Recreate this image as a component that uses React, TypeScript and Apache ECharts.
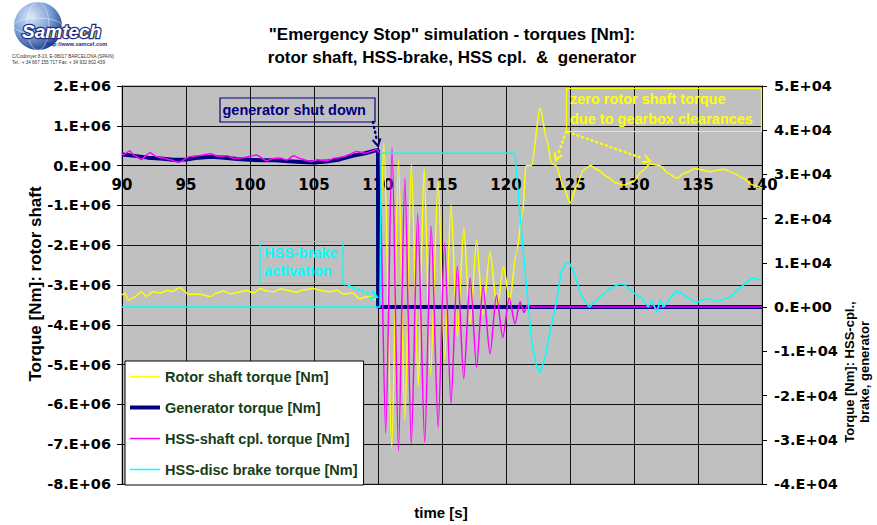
import { useEffect, useRef } from "react";
import * as echarts from "echarts";

const FONT = "'Liberation Sans', Arial, Helvetica, sans-serif";
const TICK_FONT = "'DejaVu Sans', 'Liberation Sans', sans-serif";

// Rotor shaft torque [Nm] — left axis
const rotorTime = [
  90.0, 90.23, 90.5, 91.0, 91.5, 91.9, 92.45, 93.0, 93.5, 94.0,
  94.5, 95.2, 96.1, 96.9, 97.4, 97.9, 98.5, 99.0, 99.7, 100.3,
  100.8, 101.3, 101.8, 102.4, 102.9, 103.6, 104.2, 104.9, 105.6, 106.25,
  106.8, 107.3, 108.0, 108.6, 109.0, 109.4, 109.9, 110.0,
  110.47, 111.07, 111.6, 112.1, 112.6, 113.15, 113.6, 114.1, 114.7, 115.2,
  115.7, 116.2, 116.7, 117.2, 117.7, 118.2, 118.75, 119.3, 119.8, 120.3,
  120.8, 121.3, 121.55, 122.0, 122.66, 123.2, 123.55, 123.9, 124.5, 125.0,
  125.5, 126.05, 126.6, 127.2, 127.9, 128.6, 129.2, 129.95, 130.6, 131.25,
  132.0, 132.7, 133.3, 134.0, 134.8, 135.9, 137.0, 137.8, 138.55, 139.3,
  140.0,
];
const rotorTorque = [
  -3.25e6, -3.21e6, -3.38e6, -3.3e6, -3.17e6, -3.28e6, -3.17e6, -3.2e6, -3.14e6, -3.16e6,
  -3.06e6, -3.23e6, -3.23e6, -3.29e6, -3.2e6, -3.15e6, -3.22e6, -3.19e6, -3.14e6, -3.2e6,
  -3.09e6, -3.15e6, -3.17e6, -3.1e6, -3.13e6, -3.18e6, -3.12e6, -3.09e6, -3.14e6, -3.17e6,
  -3.13e6, -3.23e6, -3.2e6, -3.35e6, -3.3e6, -3.29e6, -3.38e6, -3.3e6,
  0.56e6, -7.1e6, 0.16e6, -6.39e6, 0.04e6, -5.55e6, -0.07e6, -5.26e6, -0.4e6, -4.88e6,
  -0.99e6, -4.3e6, -1.57e6, -3.96e6, -1.87e6, -3.75e6, -2.16e6, -3.59e6, -2.55e6, -3.38e6,
  -2.2e6, -1.2e6, 0.0, 0.0, 1.45e6, 0.64e6, 0.06e6, 0.0, -0.53e6, -0.95e6,
  -0.53e6, -0.11e6, 0.0, -0.11e6, -0.28e6, -0.44e6, -0.49e6, -0.4e6, -0.15e6, 0.04e6,
  0.0, -0.19e6, -0.32e6, -0.18e6, -0.07e6, -0.15e6, -0.09e6, -0.19e6, -0.32e6, -0.49e6,
  -0.57e6,
];

// Generator torque [Nm] — right axis
const genTime = [
  90, 91, 92, 93, 94, 95, 96, 97, 98, 99,
  100, 101, 102, 103, 104, 105, 106, 107, 108, 109,
  109.9, 110.0, 110.01, 140,
];
const genTorque = [
  3.45e4, 3.42e4, 3.38e4, 3.36e4, 3.33e4, 3.34e4, 3.38e4, 3.4e4, 3.38e4, 3.35e4,
  3.33e4, 3.32e4, 3.32e4, 3.3e4, 3.28e4, 3.27e4, 3.29e4, 3.34e4, 3.42e4, 3.48e4,
  3.55e4, 3.55e4, 0, 0,
];

// HSS-shaft coupling torque [Nm] — right axis
const cplTime = [
  90.0, 90.1, 90.6, 91.0, 91.5, 92.2, 92.7, 93.2, 93.8, 94.4,
  95.3, 96.1, 96.9, 97.5, 98.2, 98.8, 99.5, 100.0, 100.5, 101.3,
  101.8, 102.3, 102.9, 103.4, 104.0, 104.7, 105.3, 106.0, 106.7, 107.3,
  107.8, 108.3, 109.0, 109.6, 109.9, 110.1,
  110.6, 111.1, 111.6, 112.1, 112.6, 113.1, 113.65, 114.15, 114.7, 115.2,
  115.7, 116.2, 116.7, 117.2, 117.7, 118.2, 118.75, 119.25, 119.75, 120.25,
  120.7, 121.1, 121.4, 121.7, 122.0, 131.3, 131.5, 131.7, 131.9, 140.0,
];
const cplTorque = [
  3.48e4, 3.44e4, 3.53e4, 3.42e4, 3.34e4, 3.49e4, 3.4e4, 3.37e4, 3.33e4, 3.27e4,
  3.4e4, 3.43e4, 3.47e4, 3.41e4, 3.42e4, 3.36e4, 3.38e4, 3.41e4, 3.44e4, 3.31e4,
  3.36e4, 3.37e4, 3.33e4, 3.42e4, 3.35e4, 3.29e4, 3.33e4, 3.31e4, 3.37e4, 3.4e4,
  3.45e4, 3.52e4, 3.48e4, 3.53e4, 3.57e4, 3.5e4,
  -2.86e4, 3.6e4, -3.25e4, 2.92e4, -3.13e4, 2.11e4, -3.06e4, 1.84e4, -2.72e4, 1.45e4,
  -2.18e4, 0.93e4, -1.62e4, 0.66e4, -1.36e4, 0.48e4, -1.06e4, 0.26e4, -0.69e4, 0.21e4,
  -0.38e4, 0.12e4, -0.12e4, 0.05e4, 0, 0, 0.05e4, -0.05e4, 0, 0,
];

// HSS-disc brake torque [Nm] — right axis
const brakeTime = [
  90, 110.15, 110.25, 120.7, 121.1, 121.75, 122.0, 122.4, 122.66, 123.05,
  123.55, 123.8, 124.05, 124.3, 124.7, 124.97, 125.35, 125.9, 126.5, 127.3,
  128.1, 128.9, 129.3, 129.95, 130.7, 131.1, 131.4, 131.8, 132.05, 132.3,
  133.3, 134.0, 134.8, 135.65, 136.6, 137.5, 138.3, 139.2, 140.0,
];
const brakeTorque = [
  0, 0, 3.48e4, 3.48e4, 2.08e4, 0, -0.76e4, -1.36e4, -1.48e4, -1.14e4,
  -0.38e4, -0.1e4, 0.33e4, 0.78e4, 1.0e4, 0.99e4, 0.75e4, 0.26e4, 0, 0.22e4,
  0.41e4, 0.53e4, 0.5e4, 0.33e4, 0.18e4, 0, 0.14e4, -0.12e4, 0.18e4, 0,
  0.37e4, 0.26e4, 0.1e4, 0.19e4, 0.13e4, 0.22e4, 0.44e4, 0.66e4, 0.61e4,
];

const seriesNames = [
  "Rotor shaft torque [Nm]",
  "Generator torque [Nm]",
  "HSS-shaft cpl. torque [Nm]",
  "HSS-disc brake torque [Nm]",
];
const seriesColors = ["#ffff00", "#000080", "#ff00ff", "#00ffff"];
const seriesWidths = [1.5, 4, 1.5, 1.5];

const titleLines = [
  '"Emergency Stop" simulation - torques [Nm]:',
  "rotor shaft, HSS-brake, HSS cpl.  &  generator",
];

const zip = (t: number[], v: number[]) => t.map((x, i) => [x, v[i]]);

const sci = (v: number, exp: number) => {
  const m = Math.round(v / Math.pow(10, exp));
  return m === 0 ? "0.E+00" : `${m}.E+0${exp}`;
};

// dotted callout line ending in an open chevron
function callout(x1: number, y1: number, x2: number, y2: number, color: string) {
  const a = Math.atan2(y2 - y1, x2 - x1);
  const len = 7;
  const half = 4;
  const bx = x2 - len * Math.cos(a);
  const by = y2 - len * Math.sin(a);
  const px = -Math.sin(a) * half;
  const py = Math.cos(a) * half;
  return [
    {
      type: "line",
      z: 20,
      shape: { x1, y1, x2: bx, y2: by },
      style: { stroke: color, lineWidth: 2.5, lineDash: [1, 4], lineCap: "round" },
    },
    {
      type: "polyline",
      z: 20,
      shape: { points: [[bx + px, by + py], [x2, y2], [bx - px, by - py]] },
      style: { stroke: color, lineWidth: 2, fill: "none" },
    },
  ];
}

function noteText(x: number, y: number, text: string, color: string) {
  return {
    type: "text",
    z: 20,
    x,
    y,
    style: {
      text,
      fill: color,
      fontFamily: FONT,
      fontWeight: "bold",
      fontSize: 14.5,
      align: "left",
      verticalAlign: "middle",
    },
  };
}

function noteBox(x: number, y: number, w: number, h: number, color: string) {
  return {
    type: "rect",
    z: 20,
    shape: { x, y, width: w, height: h },
    style: { fill: "none", stroke: color, lineWidth: 1.2 },
  };
}

function logo() {
  return {
    type: "group",
    x: 0,
    y: 0,
    children: [
      {
        type: "circle",
        shape: { cx: 38, cy: 26, r: 24 },
        style: {
          fill: new echarts.graphic.RadialGradient(0.35, 0.3, 0.75, [
            { offset: 0, color: "#dbe8f7" },
            { offset: 0.55, color: "#7c9fd6" },
            { offset: 1, color: "#1f3f8f" },
          ]),
        },
      },
      {
        type: "ellipse",
        shape: { cx: 38, cy: 26, rx: 11, ry: 24 },
        style: { fill: "none", stroke: "rgba(255,255,255,0.55)", lineWidth: 0.8 },
      },
      {
        type: "ellipse",
        shape: { cx: 38, cy: 26, rx: 24, ry: 8 },
        style: { fill: "none", stroke: "rgba(255,255,255,0.55)", lineWidth: 0.8 },
      },
      {
        type: "rect",
        shape: { x: 30, y: 31, width: 70, height: 7, r: 3 },
        style: { fill: "#f0c419" },
      },
      {
        type: "text",
        x: 22,
        y: 31,
        style: {
          text: "Samtech",
          fill: "#ffffff",
          stroke: "#1c2f86",
          lineWidth: 2.5,
          strokeFirst: true,
          font: `italic bold 19px ${FONT}`,
          align: "left",
          verticalAlign: "middle",
        },
      },
      {
        type: "text",
        x: 46,
        y: 44,
        style: {
          text: "http://www.samcef.com",
          fill: "#1c2f86",
          font: `bold 5.5px ${FONT}`,
          align: "left",
          verticalAlign: "middle",
        },
      },
      {
        type: "text",
        x: 12,
        y: 56,
        style: {
          text: "C/Codonyer 8-10, E-08017 BARCELONA (SPAIN)",
          fill: "#333",
          font: `4.6px ${FONT}`,
          align: "left",
          verticalAlign: "middle",
        },
      },
      {
        type: "text",
        x: 12,
        y: 62,
        style: {
          text: "Tel.: + 34 667 155 717 Fax: + 34 932 802 439",
          fill: "#333",
          font: `4.6px ${FONT}`,
          align: "left",
          verticalAlign: "middle",
        },
      },
    ],
  };
}

export default function App() {
  const ref = useRef<HTMLDivElement>(null);

  useEffect(() => {
    if (!ref.current) return;
    const chart = echarts.init(ref.current, null, { renderer: "svg" });

    const tickLabel = {
      fontFamily: TICK_FONT,
      fontWeight: "bold" as const,
      fontSize: 14.5,
      color: "#000",
    };

    const lineSeries = (i: number, t: number[], v: number[], yAxisIndex: number, smooth: number | boolean) => ({
      name: seriesNames[i],
      type: "line",
      yAxisIndex,
      symbol: "none",
      smooth,
      smoothMonotone: "x",
      color: seriesColors[i],
      lineStyle: { color: seriesColors[i], width: seriesWidths[i] },
      data: zip(t, v),
    });

    chart.setOption({
      animation: false,
      backgroundColor: "#ffffff",
      grid: {
        left: 122,
        right: 115,
        top: 86,
        bottom: 41,
        show: true,
        backgroundColor: "#c0c0c0",
        borderColor: "#808080",
        borderWidth: 1,
      },
      legend: {
        left: 125,
        top: 361,
        orient: "vertical",
        itemWidth: 30,
        itemHeight: 14,
        itemGap: 16,
        padding: [8, 6, 8, 5],
        backgroundColor: "#ffffff",
        borderColor: "#000000",
        borderWidth: 1,
        selectedMode: false,
        symbolKeepAspect: true,
        textStyle: {
          color: "#173d17",
          fontFamily: FONT,
          fontWeight: "bold",
          fontSize: 14.5,
        },
        data: seriesNames.map((name, i) => ({
          name,
          icon: `path://M0 0H30V${seriesWidths[i]}H0Z`,
          itemStyle: { color: seriesColors[i] },
        })),
      },
      xAxis: {
        type: "value",
        min: 90,
        max: 140,
        interval: 5,
        axisLine: { show: true, onZero: false, lineStyle: { color: "#000" } },
        axisTick: { show: false },
        axisLabel: { ...tickLabel, fontSize: 15, margin: 12, showMinLabel: true, showMaxLabel: true },
        splitLine: { show: true, lineStyle: { color: "#111", width: 1 } },
      },
      yAxis: [
        {
          type: "value",
          position: "left",
          min: -8e6,
          max: 2e6,
          interval: 1e6,
          axisLine: { show: true, lineStyle: { color: "#000" } },
          axisTick: { show: true, length: 5, lineStyle: { color: "#000" } },
          axisLabel: { ...tickLabel, margin: 11, formatter: (v: number) => sci(v, 6) },
          splitLine: { show: true, lineStyle: { color: "#111", width: 1 } },
        },
        {
          type: "value",
          position: "right",
          min: -4e4,
          max: 5e4,
          interval: 1e4,
          axisLine: { show: true, lineStyle: { color: "#000" } },
          axisTick: { show: true, length: 5, lineStyle: { color: "#000" } },
          axisLabel: { ...tickLabel, margin: 12, formatter: (v: number) => sci(v, 4) },
          splitLine: { show: false },
        },
      ],
      series: [
        lineSeries(0, rotorTime, rotorTorque, 0, 0.25),
        lineSeries(1, genTime, genTorque, 1, false),
        lineSeries(2, cplTime, cplTorque, 1, 0.25),
        lineSeries(3, brakeTime, brakeTorque, 1, false),
      ],
      graphic: [
        logo(),
        ...titleLines.map((t, i) => ({
          type: "text",
          x: 452,
          y: 34 + i * 23,
          style: {
            text: t,
            fill: "#000",
            fontFamily: FONT,
            fontWeight: "bold",
            fontSize: 17,
            align: "center",
            verticalAlign: "middle",
          },
        })),
        {
          type: "text",
          x: 35,
          y: 284,
          rotation: Math.PI / 2,
          style: {
            text: "Torque [Nm]: rotor shaft",
            fill: "#000",
            fontFamily: FONT,
            fontWeight: "bold",
            fontSize: 17,
            align: "center",
            verticalAlign: "middle",
          },
        },
        {
          type: "text",
          x: 857,
          y: 372,
          rotation: Math.PI / 2,
          style: {
            text: "Torque [Nm]: HSS-cpl.,\nbrake, generator",
            fill: "#000",
            fontFamily: FONT,
            fontWeight: "bold",
            fontSize: 13,
            lineHeight: 15,
            align: "center",
            verticalAlign: "middle",
          },
        },
        {
          type: "text",
          x: 441,
          y: 512,
          style: {
            text: "time [s]",
            fill: "#000",
            fontFamily: FONT,
            fontWeight: "bold",
            fontSize: 15,
            align: "center",
            verticalAlign: "middle",
          },
        },
        // generator shut-down note
        noteBox(220, 98, 155, 24, "#000080"),
        noteText(222.5, 110, "generator shut down", "#000080"),
        ...callout(373, 122, 378, 146, "#000080"),
        // brake activation note
        noteBox(260, 241.5, 83, 42, "#00ffff"),
        noteText(264, 253, "HSS-brake", "#00ffff"),
        noteText(264, 271, "activation", "#00ffff"),
        ...callout(344, 284, 377, 297, "#00ffff"),
        // gearbox clearance note
        noteBox(566.5, 88.5, 195, 43, "#ffff00"),
        noteText(570, 99, "zero rotor shaft torque", "#ffff00"),
        noteText(570, 119, "due to gearbox clearances", "#ffff00"),
        ...callout(566, 132, 556, 160, "#ffff00"),
        ...callout(568, 132, 650, 161, "#ffff00"),
      ],
    });

    // the time axis crosses the rotor-torque axis at zero
    const zeroY = chart.convertToPixel({ yAxisIndex: 0 }, 0) as number;
    const bottomY = chart.convertToPixel({ yAxisIndex: 0 }, -8e6) as number;
    chart.setOption({ xAxis: { offset: zeroY - bottomY } });

    return () => chart.dispose();
  }, []);

  return (
    <div
      ref={ref}
      style={{ position: "fixed", left: 0, top: 0, width: 877, height: 525, background: "#fff" }}
    />
  );
}
